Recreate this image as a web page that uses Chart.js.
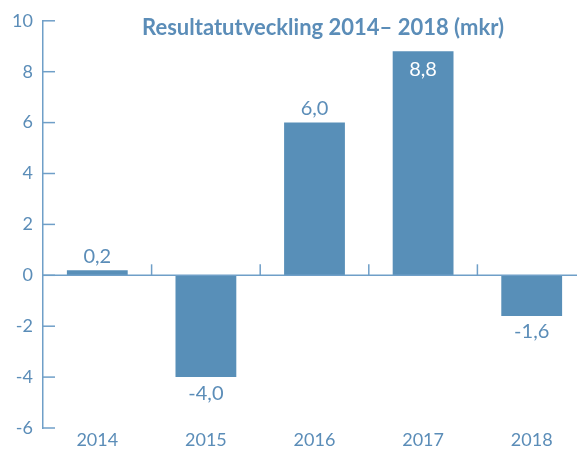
<!DOCTYPE html>
<html>
<head>
<meta charset="utf-8">
<script src="https://cdn.jsdelivr.net/npm/chart.js@4.4.1/dist/chart.umd.min.js"></script>
<style>
  html, body { margin: 0; padding: 0; background: #ffffff; overflow: hidden; }
  #wrap { position: relative; width: 586px; height: 450px; }
</style>
</head>
<body>
<div id="wrap"><canvas id="chart" width="586" height="450"></canvas></div>
<script>
// Chart data
const chartTitle = 'Resultatutveckling 2014\u2013 2018 (mkr)';
const years = ['2014', '2015', '2016', '2017', '2018'];
const results = [0.2, -4.0, 6.0, 8.8, -1.6];
const yTicks = [-6, -4, -2, 0, 2, 4, 6, 8, 10];

// Colours
const barColor = '#588fb8';
const textColor = '#5b8db8';
const axisColor = '#6f9fc8';
const fontFamily = "Lato, 'Open Sans', sans-serif";

// Number in Swedish format, e.g. 6,0
function formatValue(v) {
    return v.toFixed(1).replace('.', ',');
}

// Axis line at zero, inside ticks, title and value labels
const decorPlugin = {
    id: 'decor',
    afterDatasetsDraw(chart) {
        const ctx = chart.ctx;
        const x = chart.scales.x;
        const y = chart.scales.y;
        const area = chart.chartArea;
        const zeroY = y.getPixelForValue(0);

        ctx.save();
        ctx.strokeStyle = axisColor;
        ctx.lineWidth = 1.5;

        // horizontal axis at zero
        ctx.beginPath();
        ctx.moveTo(area.left, zeroY);
        ctx.lineTo(area.right, zeroY);
        ctx.stroke();

        // category boundary ticks pointing up
        for (let i = 0; i < years.length - 1; i++) {
            const bx = (x.getPixelForValue(i) + x.getPixelForValue(i + 1)) / 2;
            ctx.beginPath();
            ctx.moveTo(bx, zeroY);
            ctx.lineTo(bx, zeroY - 11);
            ctx.stroke();
        }

        // y ticks pointing inward
        yTicks.forEach(t => {
            const ty = y.getPixelForValue(t);
            ctx.beginPath();
            ctx.moveTo(area.left, ty);
            ctx.lineTo(area.left + 12, ty);
            ctx.stroke();
        });

        // title
        ctx.fillStyle = textColor;
        ctx.font = 'bold 22px ' + fontFamily;
        ctx.textAlign = 'center';
        ctx.textBaseline = 'middle';
        ctx.fillText(chartTitle, 323, 28);

        // value labels
        ctx.font = '20px ' + fontFamily;
        const meta = chart.getDatasetMeta(0);
        meta.data.forEach((bar, i) => {
            const v = results[i];
            let ly;
            if (v >= 8) {
                ctx.fillStyle = '#ffffff';
                ly = bar.y + 18;
            } else if (v >= 0) {
                ctx.fillStyle = textColor;
                ly = bar.y - 14;
            } else {
                ctx.fillStyle = textColor;
                ly = bar.y + 16;
            }
            ctx.fillText(formatValue(v), bar.x, ly);
        });
        ctx.restore();
    }
};

new Chart(document.getElementById('chart'), {
    type: 'bar',
    data: {
        labels: years,
        datasets: [{
            data: results,
            backgroundColor: barColor,
            borderWidth: 0,
            categoryPercentage: 1.0,
            barPercentage: 0.56
        }]
    },
    options: {
        responsive: false,
        animation: false,
        layout: { padding: { top: 20, right: 0, left: 0, bottom: 0 } },
        plugins: {
            legend: { display: false },
            tooltip: { enabled: false }
        },
        scales: {
            x: {
                grid: { display: false, drawTicks: false },
                border: { display: false },
                ticks: {
                    color: textColor,
                    padding: 1,
                    font: { family: fontFamily, size: 18 }
                },
                afterFit(scale) { scale.height = 22; }
            },
            y: {
                min: -6,
                max: 10,
                afterBuildTicks(scale) {
                    scale.ticks = yTicks.map(v => ({ value: v }));
                },
                grid: { display: false, drawTicks: false },
                border: { display: true, color: axisColor, width: 1.5 },
                ticks: {
                    color: textColor,
                    padding: 10,
                    font: { family: fontFamily, size: 18 }
                },
                afterFit(scale) { scale.width = 43; }
            }
        }
    },
    plugins: [decorPlugin]
});
</script>
</body>
</html>
